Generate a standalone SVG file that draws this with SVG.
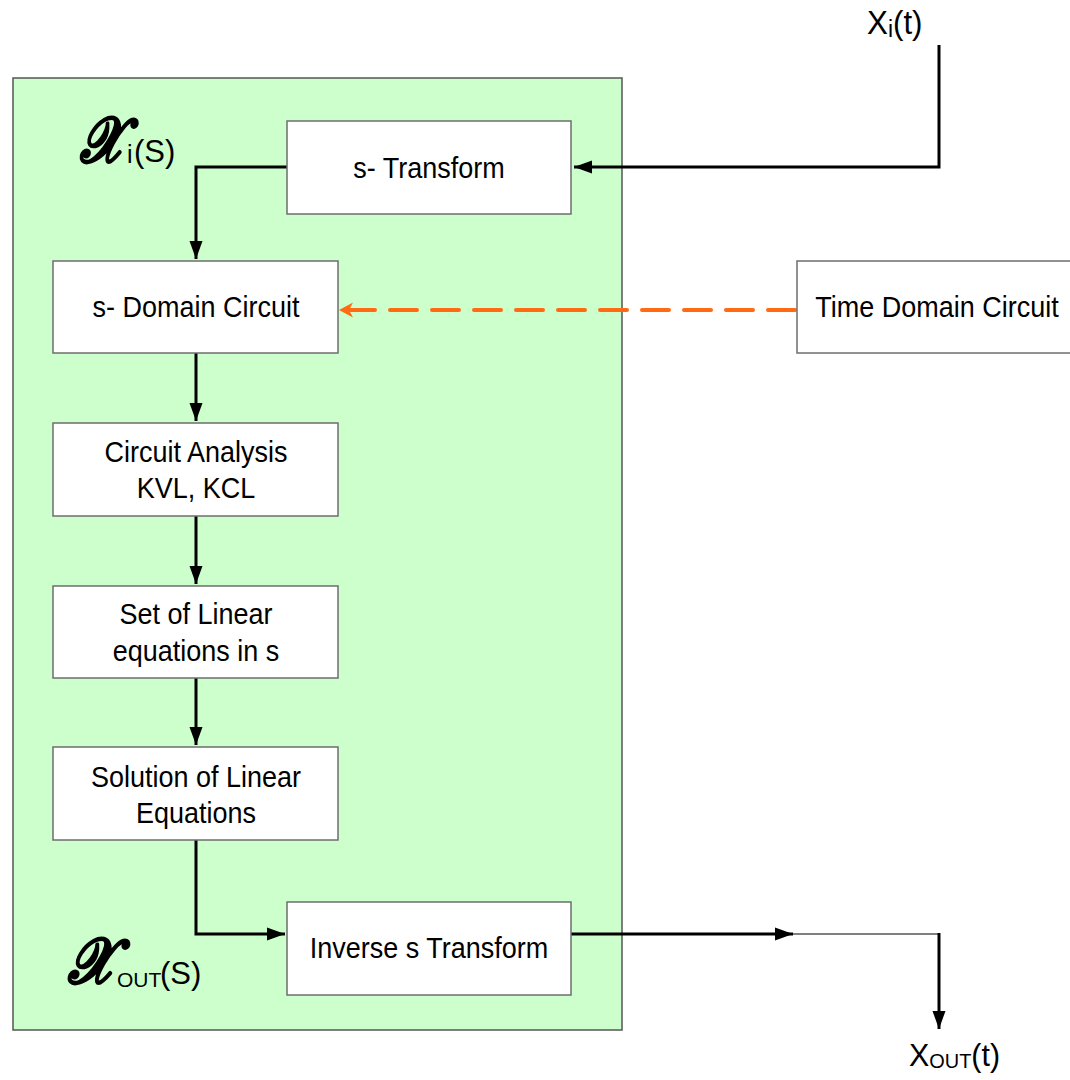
<svg xmlns="http://www.w3.org/2000/svg" width="1070" height="1080" viewBox="0 0 1070 1080">
<style>
.box{fill:#fff;stroke:#6e6e6e;stroke-width:1.5}
.t{font-family:"Liberation Sans",Arial,sans-serif;font-size:30px;fill:#000;text-anchor:middle}
.lbl{font-family:"Liberation Sans",Arial,sans-serif;fill:#000}
.scr{font-family:"DejaVu Serif","Liberation Serif",serif;font-style:italic;font-weight:bold;fill:#000;stroke:#000;stroke-width:1.6;stroke-linejoin:round}
.c{fill:none;stroke:#000;stroke-width:3}
</style>
<defs>
<marker id="ah" markerUnits="userSpaceOnUse" markerWidth="20" markerHeight="14" refX="18" refY="7" orient="auto">
<path d="M0,0.5 L18,7 L0,13.5 z" fill="#000"/>
</marker>
<marker id="oh" markerUnits="userSpaceOnUse" markerWidth="16" markerHeight="16" refX="14" refY="7.5" orient="auto">
<path d="M0,0 L14,7.5 L0,15 L4,7.5 z" fill="#FF6A13"/>
</marker>
</defs>
<rect id="panel" x="13" y="78" width="609" height="952" fill="#CCFFCC" stroke="#555" stroke-width="1.5"/>
<g id="connectors">
<polyline class="c" points="939,45 939,167 574,167" marker-end="url(#ah)"/>
<polyline class="c" points="288,167 196,167 196,259" marker-end="url(#ah)"/>
<line class="c" x1="196" y1="353" x2="196" y2="421" marker-end="url(#ah)"/>
<line class="c" x1="196" y1="516" x2="196" y2="584" marker-end="url(#ah)"/>
<line class="c" x1="196" y1="678" x2="196" y2="745" marker-end="url(#ah)"/>
<polyline class="c" points="196,840 196,934 285,934" marker-end="url(#ah)"/>
<line class="c" x1="571" y1="934" x2="793" y2="934" marker-end="url(#ah)"/>
<line x1="793" y1="934" x2="939" y2="934" stroke="#555" stroke-width="1.5"/>
<line class="c" x1="939" y1="933" x2="939" y2="1029" marker-end="url(#ah)"/>
<line x1="795" y1="310" x2="339" y2="310" stroke="#FF6A13" stroke-width="4" stroke-dasharray="27,15" stroke-linecap="round" marker-end="url(#oh)"/>
</g>
<g id="n-stransform"><rect class="box" x="287" y="121" width="284" height="93"/><text class="t" transform="translate(429,0) scale(0.9,1)" x="0" y="178">s- Transform</text></g>
<g id="n-sdomain"><rect class="box" x="53" y="261" width="285" height="92"/><text class="t" transform="translate(196,0) scale(0.9,1)" x="0" y="317">s- Domain Circuit</text></g>
<g id="n-analysis"><rect class="box" x="53" y="423" width="285" height="93"/><text class="t" transform="translate(196,0) scale(0.9,1)" x="0" y="462">Circuit Analysis</text><text class="t" transform="translate(196,0) scale(0.9,1)" x="0" y="498">KVL, KCL</text></g>
<g id="n-linear"><rect class="box" x="53" y="586" width="285" height="92"/><text class="t" transform="translate(196,0) scale(0.9,1)" x="0" y="624">Set of Linear</text><text class="t" transform="translate(196,0) scale(0.9,1)" x="0" y="661">equations in s</text></g>
<g id="n-solution"><rect class="box" x="53" y="747" width="285" height="93"/><text class="t" transform="translate(196,0) scale(0.9,1)" x="0" y="787">Solution of Linear</text><text class="t" transform="translate(196,0) scale(0.9,1)" x="0" y="823">Equations</text></g>
<g id="n-inverse"><rect class="box" x="287" y="902" width="284" height="93"/><text class="t" transform="translate(429,0) scale(0.9,1)" x="0" y="958">Inverse s Transform</text></g>
<g id="n-timedomain"><rect class="box" x="797" y="261" width="290" height="92"/><text class="t" transform="translate(937,0) scale(0.9,1)" x="0" y="317">Time Domain Circuit</text></g>
<g id="l-xit"><text class="lbl" transform="translate(867,0) scale(0.95,1)" x="0" y="34" font-size="33">X<tspan font-size="24" dy="3">i</tspan><tspan dy="-3">(t)</tspan></text></g>
<g id="l-xis"><text class="scr" transform="translate(80,0) scale(0.8,1)" x="0" y="162" font-size="64">𝒳</text><text class="lbl" x="127" y="163" font-size="25">i</text><text class="lbl" x="134" y="162" font-size="31">(S)</text></g>
<g id="l-xouts"><text class="scr" transform="translate(68,0) scale(0.85,1)" x="0" y="983" font-size="64">𝒳</text><text class="lbl" x="117" y="987" font-size="21">OUT</text><text class="lbl" x="160" y="984" font-size="31">(S)</text></g>
<g id="l-xoutt"><text class="lbl" transform="translate(909,0) scale(0.95,1)" x="0" y="1066" font-size="32">X<tspan font-size="21" dy="2">OUT</tspan><tspan dy="-2">(t)</tspan></text></g>
</svg>
